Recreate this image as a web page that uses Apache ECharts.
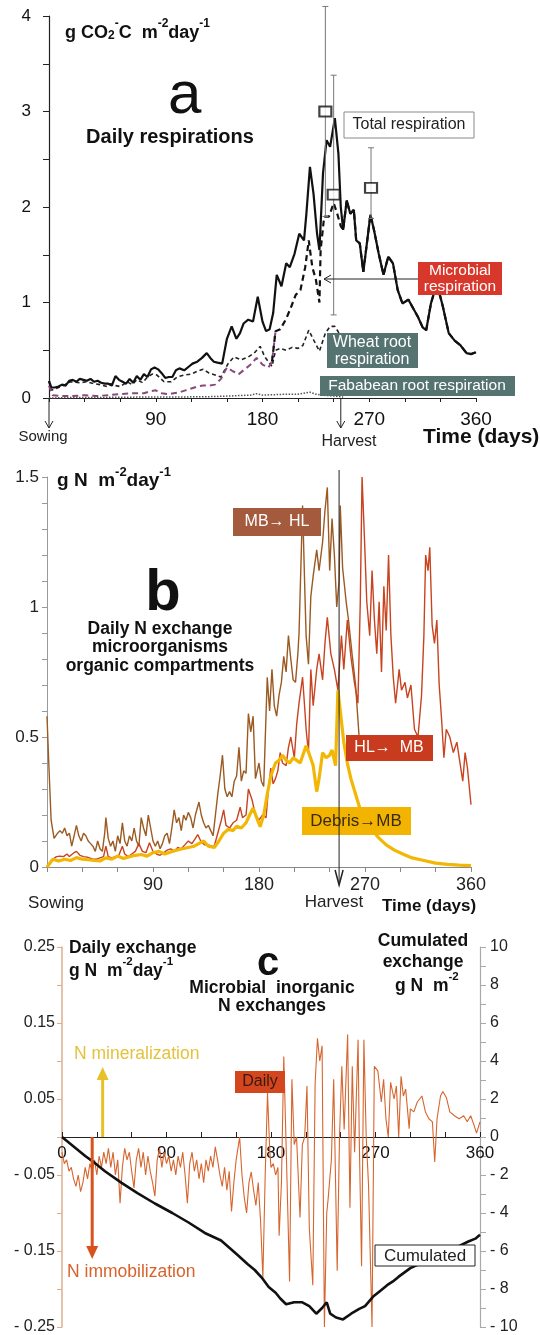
<!DOCTYPE html>
<html>
<head>
<meta charset="utf-8">
<script src="https://cdn.jsdelivr.net/npm/echarts/dist/echarts.min.js"></script>
<style>
html, body { margin: 0; padding: 0; background: #fff; }
#main { width: 540px; height: 1335px; }
</style>
</head>
<body>
<div id="main"></div>
<script>
// ---- panel a : daily respirations (g CO2-C m-2 day-1) ----
var aTotalDays = [0,2,5,8,11,14,17,20,23,26, 29,32,35,38,41,44,47,50,53,56, 59,62,65,68,71,74,77,80,83,86,
  89,92,95,98,101,104,107,110,114,118, 121,125,129,133,136,139,142,146,150,154, 158,161,164,168,172,176,180,183,186,189,
  192,196,200,203,207,211,215,217,220,223, 226,228,231,234,237,241,244,246,248,251, 254,257,259,262,265,268,271,274,278,282,
  286,290,294,298,303,307,311,315,318,322, 327,332,337,342,347,352,356,360];
var aTotal = [0.18,0.11,0.11,0.12,0.14,0.13,0.18,0.19,0.17,0.2, 0.19,0.18,0.2,0.17,0.18,0.16,0.15,0.15,0.13,0.23,
  0.19,0.17,0.15,0.2,0.16,0.23,0.19,0.25,0.22,0.3, 0.32,0.3,0.26,0.21,0.22,0.22,0.29,0.31,0.29,0.33,
  0.36,0.38,0.42,0.47,0.42,0.38,0.37,0.36,0.62,0.75, 0.62,0.68,0.78,0.82,0.8,1.06,0.8,0.7,0.72,0.89,
  1.29,1.17,1.41,1.37,1.51,1.72,1.65,1.93,2.42,2.14, 1.72,1.55,2.35,2.7,2.63,2.93,2.56,2.0,1.76,2.07,
  1.93,1.97,1.65,1.62,1.32,1.62,1.92,1.76,1.51,1.29, 1.48,1.41,1.13,0.99,1.03,0.94,0.85,0.74,0.71,0.99,
  1.2,0.96,0.68,0.6,0.55,0.47,0.46,0.48];

var aMicrobialDays = [0,3,10,20,30,40,50,60,70,80, 85,90,95,100,105,110,115,120,125,130, 135,140,145,150,155,160,165,170,175,180,
  185,188,191,195,200,204,208,212,216,219, 222,225,228,229,232,236,240,243,246,248, 251,254,257,259,262,265,268,271,274,278,
  282,286,290,294,298,303,307,311,315,318, 322,327,332,337,342,347,352,356,360];
var aMicrobial = [0.13,0.03,0.02,0.02,0.03,0.02,0.03,0.04,0.05,0.05, 0.07,0.08,0.05,0.04,0.05,0.06,0.08,0.1,0.12,0.13,
  0.13,0.14,0.2,0.32,0.28,0.25,0.3,0.35,0.42,0.35, 0.32,0.38,0.7,0.72,0.83,0.95,1.08,1.13,1.37,1.65,
  1.37,1.24,1.0,1.55,1.9,1.9,2.04,1.93,1.8,1.76, 2.07,1.93,1.97,1.65,1.62,1.32,1.62,1.92,1.76,1.51,
  1.29,1.48,1.41,1.13,0.99,1.03,0.94,0.85,0.74,0.71, 0.99,1.2,0.96,0.68,0.6,0.55,0.47,0.46,0.48];

var aWheatDays = [0,2,6,12,18,26,32,38,43,49, 52,56,60,66,70,74,79,83,87,91, 97,103,108,114,120,125,130,135,140,145,
  151,156,162,168,173,178,182,188,191,195, 200,205,210,214,219,223,228,233,237,241, 244,247];
var aWheat = [0.17,0.08,0.1,0.13,0.17,0.16,0.17,0.15,0.14,0.12, 0.15,0.13,0.12,0.17,0.14,0.19,0.16,0.22,0.25,0.24,
  0.17,0.17,0.22,0.24,0.25,0.28,0.3,0.26,0.24,0.22, 0.36,0.43,0.4,0.43,0.47,0.54,0.43,0.33,0.5,0.52,
  0.5,0.53,0.52,0.55,0.71,0.61,0.49,0.68,0.75,0.75, 0.69,0.6];

var aFabaDays = [0,20,40,60,80,100,120,140,150,160,170,175,180,190,200,210,215,220,225,230,240,248];
var aFaba = [0.0,0.005,0.005,0.008,0.01,0.01,0.012,0.015,0.02,0.025,0.03,0.045,0.03,0.035,0.04,0.04,0.05,0.06,0.04,0.03,0.02,0.01];

// measured points with error bars
var aObsDays = [233, 240, 271.5];
var aObs = [3.0, 2.13, 2.2];
var aObsLow = [1.9, 0.87, 1.88];
var aObsHigh = [4.1, 3.38, 2.62];

// ---- panel b : daily N exchange (g N m-2 day-1) ----
var bMbHlDays = [0,1.5,3.5,6,9,11,13,15,17,19, 21,23,25,27,29,31,33,35,37,39, 41,43,45,47,49,50,52,54,56,58,
  60,62,64,66,68,70,72,74,76,78, 80,82,84,86,88,90,92,94,96,98, 100,102,104,106,108,110,112,114,116,118,
  120,122,124,126,129,131,133,135,137,139, 141,143,145,147,149,151,153,155,157,159, 161,163,165,167,169,171,173,175,177,180,
  182,184,187,189,191,193,195,197,199,201, 203,205,207,209,211,213,214,217,219,220, 222,224,226,229,231,234,236,238,240,242,
  244,246,248,249,251,254,256,259,262,265];
var bMbHl = [0.58,0.4,0.18,0.11,0.13,0.14,0.13,0.15,0.12,0.13, 0.08,0.12,0.16,0.12,0.1,0.13,0.12,0.1,0.09,0.08,
  0.06,0.1,0.07,0.06,0.13,0.19,0.11,0.08,0.1,0.06, 0.12,0.09,0.17,0.1,0.08,0.12,0.1,0.15,0.1,0.08,
  0.19,0.15,0.12,0.2,0.15,0.1,0.08,0.1,0.07,0.09, 0.12,0.13,0.09,0.15,0.22,0.17,0.19,0.14,0.2,0.18,
  0.21,0.19,0.15,0.2,0.25,0.2,0.17,0.15,0.16,0.14, 0.12,0.2,0.28,0.35,0.43,0.3,0.27,0.29,0.27,0.33,
  0.35,0.46,0.33,0.37,0.36,0.59,0.52,0.58,0.34,0.4, 0.33,0.31,0.73,0.6,0.76,0.62,0.58,0.66,0.71,0.81,
  0.75,0.89,0.8,0.72,0.71,0.82,0.9,1.39,1.05,0.89, 0.78,1.04,1.12,1.22,1.14,1.25,1.37,1.46,1.14,1.34,
  1.2,1.0,1.1,1.39,1.15,1.02,0.95,0.82,0.7,0.5];

var bHlMbDays = [0,3,5,8,11,14,17,19,21,23, 25,28,31,34,36,39,42,45,48,50, 52,55,58,61,64,66,69,72,75,78,
  81,84,87,90,93,96,99,102,105,108, 111,114,117,120,123,126,128,131,134,137, 140,142,145,148,150,152,155,158,161,164,
  166,169,171,174,177,180,183,186,188,190, 192,194,196,198,200,203,205,207,210,212, 214,217,219,220,222,224,226,229,231,234,
  236,238,241,244,247,250,252,255,258,261, 264,266,267.5,269.5,271.5,274,276,278,280,282, 284,286,288,290,292,294,296,299,301,304,
  306,309,312,315,318,320,321.5,323.5,325,327, 329,331,333,335,337,339,342,345,348,350, 353,355,357,360];
var bHlMb = [0,0.02,0.03,0.04,0.042,0.04,0.05,0.04,0.048,0.055, 0.06,0.045,0.04,0.038,0.035,0.03,0.03,0.035,0.04,0.08,
  0.04,0.035,0.04,0.045,0.08,0.05,0.04,0.05,0.06,0.09, 0.06,0.055,0.093,0.06,0.05,0.045,0.055,0.065,0.07,0.06,
  0.075,0.07,0.085,0.1,0.09,0.11,0.125,0.095,0.085,0.085, 0.08,0.08,0.13,0.18,0.22,0.16,0.15,0.17,0.18,0.23,
  0.19,0.2,0.3,0.26,0.2,0.18,0.2,0.19,0.3,0.38, 0.32,0.34,0.37,0.44,0.4,0.39,0.46,0.5,0.42,0.55,
  0.63,0.73,0.6,0.53,0.44,0.76,0.62,0.76,0.82,0.72, 0.86,0.96,0.82,0.76,0.68,0.89,0.76,0.95,0.81,0.71,
  0.63,1.02,1.5,1.27,1.02,0.89,1.14,0.95,0.82,1.02, 0.75,1.08,0.91,1.2,0.89,0.73,0.63,0.76,0.68,0.71,
  0.65,0.7,0.53,0.5,0.66,0.89,1.2,1.14,1.23,0.93, 0.86,0.95,0.7,0.57,0.42,0.53,0.5,0.44,0.48,0.42,
  0.33,0.44,0.38,0.24];

var bDebrisDays = [0,5,10,15,20,25,30,35,40,45, 50,55,60,65,70,75,80,85,90,95, 100,105,110,115,120,125,130,133,137,142,
  146,150,154,158,161,165,169,172,175,178, 181,184,187,190,194,197,200,203,206,209, 212,215,218,220,223,226,229,231,234,237,
  240,242,245,247,249,252,255,258,262,266, 270,275,281,288,295,303,310,320,330,340, 350,360];
var bDebris = [0,0.03,0.023,0.03,0.025,0.036,0.03,0.028,0.025,0.023, 0.035,0.03,0.042,0.033,0.04,0.045,0.048,0.042,0.055,0.06,
  0.05,0.058,0.065,0.07,0.075,0.08,0.093,0.1,0.08,0.075, 0.1,0.13,0.145,0.14,0.157,0.15,0.17,0.2,0.227,0.19,
  0.155,0.2,0.28,0.35,0.4,0.41,0.43,0.41,0.4,0.42, 0.41,0.4,0.44,0.466,0.43,0.39,0.29,0.34,0.44,0.42,
  0.43,0.45,0.39,0.68,0.6,0.48,0.4,0.34,0.28,0.22, 0.18,0.15,0.115,0.085,0.065,0.048,0.035,0.025,0.015,0.01,
  0.007,0.005];

// ---- panel c : microbial inorganic N exchanges ----
var cDailyDays = [0,2,4,6,8,10,12,14,16,18, 20,22,24,26,28,30,32,34,36,38, 40,42,44,46,48,50,52,54,56,58,
  60,62,64,66,68,70,72,74,76,78, 80,82,84,86,88,90,92,94,96,98, 100,102,104,106,108,110,112,114,116,118,
  120,122,124,126,128,130,132,134,136,138, 140,142,144,146,148,150,152,153,155,157, 159,161,163,165,167,169,171,173,175,177,
  179,180,182,184,186,187,189,191,193,196, 198,200,202,205,207,209,211,213,216,218, 220,222,224,226,228,229,232,234,237,239,
  241,243,246,248,250,252,255,256,258,260, 262,264,267,269,272,275,277,279,281,283, 286,288,290,292,294,296,299,300,303,306,
  310,313,316,319,321,323,326,328,331,334, 338,342,346,349,352,355,357,360];
var cDaily = [-0.02,-0.035,-0.03,-0.045,-0.04,-0.055,-0.065,-0.05,-0.072,-0.06, -0.04,-0.055,-0.035,-0.045,-0.03,-0.05,-0.025,-0.04,-0.02,-0.035,
  -0.015,-0.04,-0.02,-0.05,-0.03,-0.087,-0.04,-0.015,-0.03,-0.02, -0.045,-0.067,-0.03,-0.015,-0.04,-0.02,-0.05,-0.025,-0.045,-0.06,
  -0.078,-0.03,-0.015,-0.04,-0.02,-0.035,-0.025,-0.045,-0.03,-0.05, -0.025,-0.04,-0.02,-0.05,-0.087,-0.035,-0.02,-0.045,-0.03,-0.055,
  -0.035,-0.06,-0.03,-0.045,-0.025,-0.04,-0.013,-0.03,-0.05,-0.065, -0.04,-0.07,-0.045,-0.098,-0.06,-0.03,-0.01,0.0,-0.05,-0.08,
  -0.1,-0.06,-0.046,-0.07,-0.09,-0.06,-0.11,-0.185,-0.05,0.058, -0.02,-0.04,-0.035,-0.05,-0.04,-0.13,-0.06,0.106,-0.01,-0.19,
  0.076,-0.01,0.0,-0.106,-0.01,0.0,0.067,-0.12,-0.195,0.07, 0.13,0.1,0.12,-0.25,-0.1,-0.085,-0.03,0.076,-0.176,0.0,
  0.093,0.01,0.135,-0.093,0.093,-0.02,0.128,0.0,-0.17,0.128, 0.0,-0.063,-0.25,0.093,0.087,0.046,0.076,0.024,0.0,0.072,
  0.05,0.067,0.0,0.08,0.054,0.063,0.011,0.037,0.033,0.046, 0.054,0.033,0.024,0.02,-0.033,0.024,0.054,0.06,0.052,0.033,
  0.028,0.024,0.028,0.02,0.028,0.015,0.005,0.02];

var cCumDays = [0,10,20,28,37,51,65,80,95,109, 123,137,151,160,166,172,178,184,188,193, 200,207,213,219,224,228,231,236,242,249,
  256,261,268,274,280,285,290,300,311,320, 330,340,350,356,360];
var cCum = [0,-0.5,-1.0,-1.35,-1.8,-2.4,-2.95,-3.5,-4.0,-4.5, -5.05,-5.45,-6.2,-6.7,-7.0,-7.4,-7.9,-8.2,-8.5,-8.8,
  -8.7,-8.7,-8.9,-9.3,-9.0,-8.7,-9.3,-9.5,-9.6,-9.3, -9.05,-8.9,-8.4,-8.1,-7.8,-7.6,-7.35,-6.9,-6.6,-6.3,
  -6.0,-5.8,-5.5,-5.35,-5.15];

var harvestA = 246, harvestB = 248;
var arrowUpDay = 35, arrowDownDay = 26;

function pairs(days, vals) {
  return days.map(function (d, i) { return [d, vals[i]]; });
}

var F = "'Liberation Sans', Arial, Helvetica, sans-serif";
var GA = { left: 49, top: 16, width: 427, height: 382 };
var GB = { left: 47, top: 477, width: 424, height: 390 };
var GC = { left: 62, top: 947, width: 418, height: 380 };
function xA(d) { return GA.left + d / 360 * GA.width; }
function xB(d) { return GB.left + d / 360 * GB.width; }
function xC(d) { return GC.left + d / 360 * GC.width; }

function txt(x, y, s, size, opt) {
  opt = opt || {};
  return {
    type: 'text', x: x, y: y, z: 100,
    style: {
      text: s, fill: opt.color || '#111',
      font: (opt.bold ? 'bold ' : '') + size + 'px ' + F,
      align: opt.align || 'left', verticalAlign: 'middle',
      lineHeight: opt.lh || size + 2
    }
  };
}
function box(x, y, w, h, fill, stroke) {
  return { type: 'rect', z: 90, shape: { x: x, y: y, width: w, height: h },
    style: { fill: fill, stroke: stroke || null, lineWidth: stroke ? 1 : 0 } };
}
function line(x1, y1, x2, y2, color, w) {
  return { type: 'line', z: 95, shape: { x1: x1, y1: y1, x2: x2, y2: y2 },
    style: { stroke: color, lineWidth: w || 1 } };
}
function vhead(pts, color, w) {
  return { type: 'polyline', z: 95, shape: { points: pts }, style: { stroke: color, lineWidth: w || 1, fill: null } };
}
function tri(pts, color) {
  return { type: 'polygon', z: 95, shape: { points: pts }, style: { fill: color } };
}
function unitText(x, y, parts, size) {
  var rich = {
    b: { fontSize: size, fontWeight: 'bold', fontFamily: F, fill: '#111', lineHeight: size + 6, verticalAlign: 'bottom' },
    sup: { fontSize: size - 6, fontWeight: 'bold', fontFamily: F, fill: '#111', lineHeight: size + 6, verticalAlign: 'top' },
    sub: { fontSize: size - 6, fontWeight: 'bold', fontFamily: F, fill: '#111', lineHeight: size + 2, verticalAlign: 'bottom' }
  };
  return { type: 'text', x: x, y: y, z: 100, style: { text: parts, rich: rich, verticalAlign: 'middle', align: 'left' } };
}

var graphics = [
  // panel a
  unitText(65, 30, '{b|g CO}{sub|2}{sup|-}{b|C  m}{sup|-2}{b|day}{sup|-1}', 18),
  txt(168, 96, 'a', 60),
  txt(170, 137, 'Daily respirations', 20, { bold: true, align: 'center' }),
  box(344, 112, 130, 26, '#fff', '#8a8a8a'),
  txt(409, 125, 'Total respiration', 16, { color: '#222', align: 'center' }),
  line(418, 279, 324, 279, '#222', 1),
  vhead([[331, 275], [324, 279], [331, 283]], '#222', 1),
  box(418, 262, 84, 33, '#d8382c'),
  txt(460, 279, 'Microbial\nrespiration', 15.5, { color: '#fff', align: 'center', lh: 16 }),
  box(327, 333, 91, 35, '#557370'),
  txt(372, 351, 'Wheat root\nrespiration', 16, { color: '#fff', align: 'center', lh: 17 }),
  box(320, 376, 195, 20, '#557370'),
  txt(417, 386, 'Fababean root respiration', 15.5, { color: '#fff', align: 'center' }),
  line(xA(0), 398, xA(0), 428, '#222', 1),
  vhead([[xA(0) - 4, 421], [xA(0), 428], [xA(0) + 4, 421]], '#222', 1),
  txt(43, 437, 'Sowing', 15, { color: '#222', align: 'center' }),
  line(xA(harvestA), 398, xA(harvestA), 428, '#222', 1),
  vhead([[xA(harvestA) - 4, 421], [xA(harvestA), 428], [xA(harvestA) + 4, 421]], '#222', 1),
  txt(349, 442, 'Harvest', 16, { color: '#222', align: 'center' }),
  txt(423, 437, 'Time (days)', 21, { bold: true }),

  // panel b
  unitText(57, 478, '{b|g N  m}{sup|-2}{b|day}{sup|-1}', 19),
  txt(163, 594, 'b', 58, { bold: true, align: 'center' }),
  txt(160, 629, 'Daily N exchange', 17.5, { bold: true, align: 'center' }),
  txt(160, 647, 'microorganisms', 17.5, { bold: true, align: 'center' }),
  txt(160, 666, 'organic compartments', 17.5, { bold: true, align: 'center' }),
  box(233, 508, 88, 28, '#a35a3d'),
  txt(277, 522, 'MB\u2192 HL', 16, { color: '#fff', align: 'center' }),
  box(346, 735, 87, 26, '#c93b1e'),
  txt(389, 748, 'HL\u2192  MB', 16, { color: '#fff', align: 'center' }),
  box(302, 807, 109, 28, '#f2b400'),
  txt(356, 821, 'Debris\u2192MB', 17, { color: '#3a2a10', align: 'center' }),
  line(xB(harvestB), 470, xB(harvestB), 885, '#222', 1),
  vhead([[xB(harvestB) - 4, 870], [xB(harvestB), 885], [xB(harvestB) + 4, 870]], '#222', 1.5),
  txt(56, 903, 'Sowing', 17, { color: '#222', align: 'center' }),
  txt(334, 902, 'Harvest', 17, { color: '#222', align: 'center' }),
  txt(382, 906, 'Time (days)', 17, { bold: true }),

  // panel c
  txt(69, 948, 'Daily exchange', 17.5, { bold: true }),
  unitText(69, 968, '{b|g N  m}{sup|-2}{b|day}{sup|-1}', 17.5),
  txt(268, 964, 'c', 40, { bold: true, align: 'center' }),
  txt(272, 988, 'Microbial  inorganic', 17.5, { bold: true, align: 'center' }),
  txt(272, 1006, 'N exchanges', 17.5, { bold: true, align: 'center' }),
  txt(423, 941, 'Cumulated', 17.5, { bold: true, align: 'center' }),
  txt(423, 962, 'exchange', 17.5, { bold: true, align: 'center' }),
  unitText(395, 983, '{b|g N  m}{sup|-2}', 17.5),
  txt(74, 1054, 'N mineralization', 17.5, { color: '#e4c23c' }),
  line(xC(arrowUpDay), 1137, xC(arrowUpDay), 1078, '#e8c02a', 3),
  tri([[xC(arrowUpDay) - 6, 1080], [xC(arrowUpDay), 1067], [xC(arrowUpDay) + 6, 1080]], '#e8c02a'),
  line(xC(arrowDownDay), 1137, xC(arrowDownDay), 1248, '#d8521e', 3),
  tri([[xC(arrowDownDay) - 6, 1246], [xC(arrowDownDay), 1259], [xC(arrowDownDay) + 6, 1246]], '#d8521e'),
  txt(67, 1272, 'N immobilization', 17.5, { color: '#d8622b' }),
  box(235, 1071, 50, 22, '#d4461e'),
  txt(260, 1082, 'Daily', 16, { color: '#3a1a10', align: 'center' }),
  box(375, 1245, 100, 21, '#fff', '#222'),
  txt(425, 1256, 'Cumulated', 17, { color: '#222', align: 'center' })
];

function xFmt(showZero) {
  return function (v) {
    if (Math.abs(v) < 1e-9) return showZero ? '0' : '';
    return v % 90 === 0 ? String(v) : '';
  };
}

var chart = echarts.init(document.getElementById('main'), null, { renderer: 'canvas' });
var option = {
  animation: false,
  backgroundColor: '#fff',
  textStyle: { fontFamily: F },
  grid: [
    { left: GA.left, top: GA.top, width: GA.width, height: GA.height, outerBoundsMode: 'none' },
    { left: GB.left, top: GB.top, width: GB.width, height: GB.height, outerBoundsMode: 'none' },
    { left: GC.left, top: GC.top, width: GC.width, height: GC.height, outerBoundsMode: 'none' }
  ],
  xAxis: [
    { gridIndex: 0, type: 'value', min: 0, max: 360, interval: 30,
      axisLine: { lineStyle: { color: '#222', width: 1.2 } },
      axisTick: { length: 4, lineStyle: { color: '#222' } },
      axisLabel: { formatter: xFmt(false), fontSize: 19, color: '#111', margin: 12, fontFamily: F },
      splitLine: { show: false } },
    { gridIndex: 1, type: 'value', min: 0, max: 360, interval: 30,
      axisLine: { lineStyle: { color: '#888' } },
      axisTick: { length: 5, lineStyle: { color: '#888' } },
      axisLabel: { formatter: xFmt(false), fontSize: 18, color: '#222', margin: 9, fontFamily: F },
      splitLine: { show: false } },
    // zero line of panel c: bottom axis shifted up to the middle of the grid
    { gridIndex: 2, type: 'value', min: 0, max: 360, interval: 30, position: 'bottom', offset: -GC.height / 2,
      axisLine: { onZero: false, lineStyle: { color: '#222', width: 1.2 } },
      axisTick: { inside: true, length: 5, lineStyle: { color: '#222' } },
      axisLabel: { formatter: xFmt(true), fontSize: 17, color: '#111', margin: 8, fontFamily: F,
        showMinLabel: true, showMaxLabel: true },
      splitLine: { show: false } }
  ],
  yAxis: [
    { gridIndex: 0, type: 'value', min: 0, max: 4, interval: 0.5,
      axisLine: { show: true, lineStyle: { color: '#222', width: 1.2 } },
      axisTick: { show: true, length: 6, lineStyle: { color: '#222' } },
      axisLabel: { fontSize: 17, color: '#111', margin: 18, fontFamily: F,
        formatter: function (v) { return Math.abs(v - Math.round(v)) < 1e-6 ? String(Math.round(v)) : ''; } },
      splitLine: { show: false } },
    { gridIndex: 1, type: 'value', min: 0, max: 1.5, interval: 0.1,
      axisLine: { show: true, lineStyle: { color: '#999' } },
      axisTick: { show: true, length: 5, lineStyle: { color: '#999' } },
      axisLabel: { fontSize: 17, color: '#222', margin: 8, fontFamily: F,
        formatter: function (v) { var k = Math.round(v * 10); return k % 5 === 0 ? String(k / 10) : ''; } },
      splitLine: { show: false } },
    { gridIndex: 2, type: 'value', min: -0.25, max: 0.25, interval: 0.05, position: 'left',
      axisLine: { show: true, onZero: false, lineStyle: { color: '#dcae8e', width: 1.5 } },
      axisTick: { show: true, length: 5, lineStyle: { color: '#dcae8e' } },
      axisLabel: { fontSize: 16, color: '#222', margin: 7, fontFamily: F,
        formatter: function (v) {
          var k = Math.round(v * 100);
          if (Math.abs(k) % 10 !== 5) return '';
          var s = (Math.abs(k) / 100).toFixed(2);
          return k < 0 ? '- ' + s : s;
        } },
      splitLine: { show: false } },
    { gridIndex: 2, type: 'value', min: -10, max: 10, interval: 1, position: 'right',
      axisLine: { show: true, onZero: false, lineStyle: { color: '#aaa', width: 1.2 } },
      axisTick: { show: true, length: 6, lineStyle: { color: '#aaa' } },
      axisLabel: { fontSize: 16, color: '#222', margin: 10, fontFamily: F,
        formatter: function (v) {
          var k = Math.round(v);
          if (k % 2 !== 0) return '';
          return k < 0 ? '- ' + (-k) : String(k);
        } },
      splitLine: { show: false } }
  ],
  series: [
    // panel a
    { name: 'Fababean root', type: 'line', xAxisIndex: 0, yAxisIndex: 0, symbol: 'none',
      data: pairs(aFabaDays, aFaba), lineStyle: { color: '#555', width: 1.5, type: 'dotted' }, z: 2 },
    { name: 'Wheat root', type: 'line', xAxisIndex: 0, yAxisIndex: 0, symbol: 'none',
      data: pairs(aWheatDays, aWheat), lineStyle: { color: '#222', width: 1.6, type: [4, 3] }, z: 3 },
    { name: 'Microbial (early)', type: 'line', xAxisIndex: 0, yAxisIndex: 0, symbol: 'none',
      data: pairs(aMicrobialDays, aMicrobial).filter(function (p) { return p[0] <= 191; }),
      lineStyle: { color: '#8a4a7c', width: 2, type: [6, 4] }, z: 3 },
    { name: 'Total', type: 'line', xAxisIndex: 0, yAxisIndex: 0, symbol: 'none',
      data: pairs(aTotalDays, aTotal), lineStyle: { color: '#111', width: 2.2 }, z: 4 },
    { name: 'Microbial', type: 'line', xAxisIndex: 0, yAxisIndex: 0, symbol: 'none',
      data: pairs(aMicrobialDays, aMicrobial).filter(function (p) { return p[0] >= 188; }),
      lineStyle: { color: '#111', width: 2.2, type: [6, 4] }, z: 5 },
    { name: 'Error bars', type: 'custom', xAxisIndex: 0, yAxisIndex: 0, clip: false, z: 6,
      data: aObsDays.map(function (d, i) { return [d, aObsLow[i], aObsHigh[i]]; }),
      encode: { x: 0, y: [1, 2] },
      renderItem: function (params, api) {
        var lo = api.coord([api.value(0), api.value(1)]);
        var hi = api.coord([api.value(0), api.value(2)]);
        var st = { stroke: '#777', lineWidth: 1 };
        return { type: 'group', children: [
          { type: 'line', shape: { x1: lo[0], y1: lo[1], x2: hi[0], y2: hi[1] }, style: st },
          { type: 'line', shape: { x1: lo[0] - 3, y1: lo[1], x2: lo[0] + 3, y2: lo[1] }, style: st },
          { type: 'line', shape: { x1: hi[0] - 3, y1: hi[1], x2: hi[0] + 3, y2: hi[1] }, style: st }
        ] };
      } },
    { name: 'Measured', type: 'scatter', xAxisIndex: 0, yAxisIndex: 0, symbol: 'rect', symbolSize: [12, 10],
      data: pairs(aObsDays, aObs), itemStyle: { color: '#fff', borderColor: '#111', borderWidth: 2 }, z: 7 },

    // panel b
    { name: 'MB to HL', type: 'line', xAxisIndex: 1, yAxisIndex: 1, symbol: 'none',
      data: pairs(bMbHlDays, bMbHl), lineStyle: { color: '#9a5a22', width: 1.4 }, z: 3 },
    { name: 'HL to MB', type: 'line', xAxisIndex: 1, yAxisIndex: 1, symbol: 'none',
      data: pairs(bHlMbDays, bHlMb), lineStyle: { color: '#c8431f', width: 1.4 }, z: 4 },
    { name: 'Debris to MB', type: 'line', xAxisIndex: 1, yAxisIndex: 1, symbol: 'none',
      data: pairs(bDebrisDays, bDebris), lineStyle: { color: '#f2b705', width: 3.2 }, z: 5 },

    // panel c
    { name: 'Daily', type: 'line', xAxisIndex: 2, yAxisIndex: 2, symbol: 'none',
      data: pairs(cDailyDays, cDaily), lineStyle: { color: '#d6652e', width: 1.1 }, z: 3 },
    { name: 'Cumulated', type: 'line', xAxisIndex: 2, yAxisIndex: 3, symbol: 'none',
      data: pairs(cCumDays, cCum), lineStyle: { color: '#111', width: 2.6 }, z: 4 }
  ],
  graphic: graphics
};
chart.setOption(option);
</script>
</body>
</html>
